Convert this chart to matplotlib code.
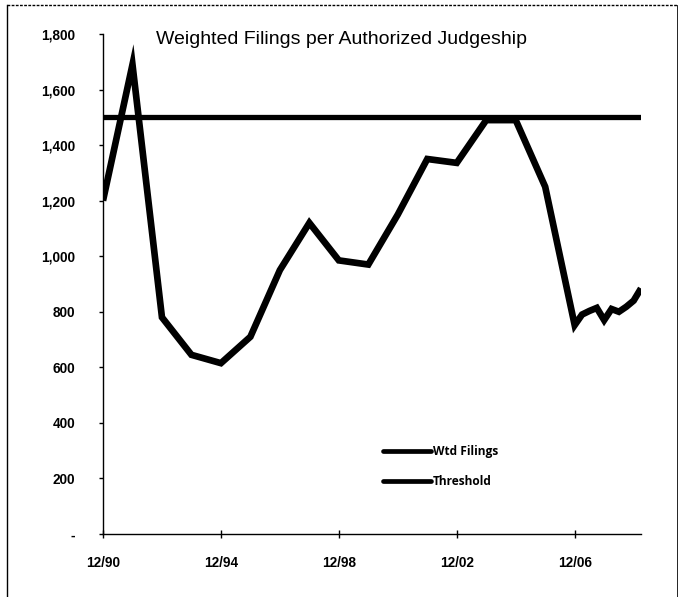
import matplotlib
matplotlib.use("Agg")
import matplotlib.pyplot as plt
from matplotlib.lines import Line2D
from matplotlib.ticker import FuncFormatter

# ---- data ----
dates = ["12/90", "12/91", "12/92", "12/93", "12/94", "12/95", "12/96", "12/97",
         "12/98", "12/99", "12/00", "12/01", "12/02", "12/03", "12/04", "12/05",
         "12/06", "3/07", "6/07", "9/07", "12/07", "3/08", "6/08", "9/08",
         "12/08", "3/09"]
wtd_filings = [1200, 1690, 780, 645, 615, 710, 950, 1120,
               985, 970, 1150, 1350, 1336, 1490, 1490, 1250,
               752, 790, 803, 814, 770, 810, 800, 818,
               840, 884]
threshold_value = 1500
xtick_labels = ["12/90", "12/94", "12/98", "12/02", "12/06"]
yticks = [0, 200, 400, 600, 800, 1000, 1200, 1400, 1600, 1800]
title = "Weighted Filings per Authorized Judgeship"


def to_num(d):
    m, y = d.split("/")
    y = int(y)
    y = 1900 + y if y > 50 else 2000 + y
    return y + int(m) / 12.0


x = [to_num(d) for d in dates]
xt = [to_num(d) for d in xtick_labels]

fig = plt.figure(figsize=(6.82, 5.97), dpi=100)
ax = fig.add_axes([103 / 682, 1 - 534 / 597, (641 - 103) / 682, (534 - 34) / 597])

ax.plot(x, wtd_filings, color="black", lw=4.8, solid_joinstyle="miter",
        solid_capstyle="butt", label="Wtd Filings", zorder=3)
ax.plot([x[0], x[-1]], [threshold_value, threshold_value], color="black", lw=3.8,
        solid_capstyle="butt", label="Threshold", zorder=2)

ax.set_xlim(x[0], x[-1])
ax.set_ylim(0, 1800)
ax.set_yticks(yticks)
ax.yaxis.set_major_formatter(FuncFormatter(lambda v, p: "-" if v == 0 else f"{int(v):,}"))
ax.set_xticks(xt)
ax.set_xticklabels(xtick_labels)

for s in ["top", "right"]:
    ax.spines[s].set_visible(False)
for s in ["left", "bottom"]:
    ax.spines[s].set_linewidth(1.0)
    ax.spines[s].set_color("black")

ax.tick_params(axis="y", direction="out", length=3, width=1, pad=17,
               labelsize=9.8)
ax.tick_params(axis="x", direction="inout", length=6, width=1, pad=13,
               labelsize=9.8)
for lab in ax.get_xticklabels() + ax.get_yticklabels():
    lab.set_fontfamily("Liberation Sans")
    lab.set_fontweight("bold")

fig.text(342 / 682, 1 - 40 / 597, title, ha="center", va="center",
         fontsize=14, family="Liberation Sans")

handles = [Line2D([], [], color="black", lw=3.4, solid_capstyle="round"),
           Line2D([], [], color="black", lw=3.4, solid_capstyle="round")]
leg = ax.legend(handles, ["Wtd Filings", "Threshold"], loc="upper left",
                bbox_to_anchor=((372 - 103) / 538, (534 - 434) / 500),
                frameon=False, handlelength=4.0, handletextpad=0.2,
                labelspacing=1.45, prop={"family": "Open Sans", "weight": "bold", "size": 8.6})

# page border from the scanned document
fig.add_artist(Line2D([7 / 682, 7 / 682], [0, 1 - 5 / 597], transform=fig.transFigure,
                      color="black", lw=1.0))
fig.add_artist(Line2D([7 / 682, 677 / 682], [1 - 5 / 597, 1 - 5 / 597],
                      transform=fig.transFigure, color="black", lw=1.0, ls=(0, (2, 1))))
fig.add_artist(Line2D([677 / 682, 677 / 682], [1 - 5 / 597, 0], transform=fig.transFigure,
                      color="black", lw=0.6))

fig.savefig("out.png", dpi=100)
